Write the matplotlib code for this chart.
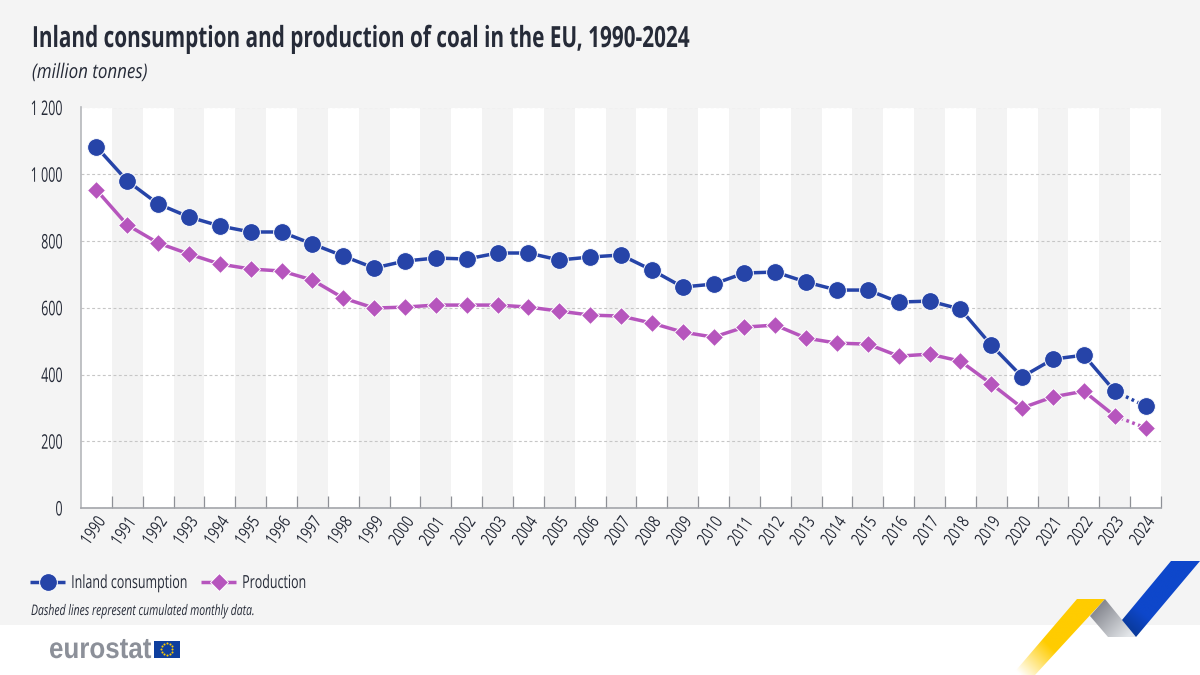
import matplotlib
matplotlib.use("Agg")
import matplotlib.pyplot as plt
import numpy as np
import matplotlib.patheffects as pe
from matplotlib.transforms import Affine2D
from matplotlib.patches import Polygon, Rectangle
from matplotlib.colors import LinearSegmentedColormap

plt.rcParams['font.family'] = ['Open Sans', 'DejaVu Sans']

years = list(range(1990, 2025))
consumption = [1082, 980, 911, 872, 845, 827, 827, 791, 755, 719, 740, 749, 746, 764, 764, 743, 752, 758,
               713, 662, 671, 704, 707, 677, 653, 653, 617, 620, 596, 488, 393, 446, 458, 350, 305]
production = [953, 848, 794, 761, 731, 716, 710, 683, 629, 599, 602, 608, 608, 608, 602, 590, 578, 575,
              554, 527, 512, 542, 548, 509, 494, 491, 455, 461, 440, 372, 300, 333, 350, 276, 240]
yticks = [0, 200, 400, 600, 800, 1000, 1200]
ylabels = ['0', '200', '400', '600', '800', '1 000', '1 200']

BG = '#f4f4f4'
TXT = '#262b38'
BLUE = '#2644a8'
PURPLE = '#b655bd'
W, H = 1200, 675


class Condense(pe.AbstractPathEffect):
    """Draws real text narrower (no condensed font is installed), keeping its anchor."""
    def __init__(self, sx, frac=0.0):
        super().__init__()
        self.sx, self.frac = sx, frac

    def draw_path(self, renderer, gc, tpath, affine, rgbFace=None):
        w = tpath.get_extents().x1
        pre = Affine2D().scale(self.sx, 1).translate((1 - self.sx) * w * self.frac, 0)
        renderer.draw_path(gc, tpath, pre + affine, rgbFace)


fig = plt.figure(figsize=(12, 6.75), dpi=100, facecolor='white')

# page-coordinate overlay (pixels, y down)
deco = fig.add_axes([0, 0, 1, 1], zorder=0)
deco.set_xlim(0, W); deco.set_ylim(H, 0); deco.axis('off')
deco.add_patch(Rectangle((0, 0), W, 625, fc=BG, ec='none'))


def grad_poly(pts, stops, p0, p1):
    """Fill a polygon with a linear gradient from p0 to p1 (page pixels)."""
    pts = np.array(pts, float)
    x0, y0 = pts.min(axis=0); x1, y1 = pts.max(axis=0)
    xs, ys = np.meshgrid(np.linspace(x0, x1, 200), np.linspace(y0, y1, 200))
    d = np.array(p1) - np.array(p0)
    t = ((xs - p0[0]) * d[0] + (ys - p0[1]) * d[1]) / (d @ d)
    cmap = LinearSegmentedColormap.from_list('g', stops)
    im = deco.imshow(np.clip(t, 0, 1), cmap=cmap, vmin=0, vmax=1, extent=(x0, x1, y1, y0),
                     aspect='auto', interpolation='bilinear', zorder=2)
    poly = Polygon(pts, closed=True, transform=deco.transData, fc='none', ec='none')
    deco.add_patch(poly)
    im.set_clip_path(poly)


grad_poly([(1077, 599), (1105, 599), (1035, 675), (1012, 675)],
          [(0, '#ffcc00'), (0.55, '#ffcc00'), (1, '#ffffff')], (1085, 610), (1020, 675))
grad_poly([(1105, 599), (1136, 637), (1108, 637), (1090, 616)],
          ['#85878f', '#e4e7ea'], (1097, 607), (1128, 637))
grad_poly([(1171, 561), (1200, 561), (1136, 637), (1122, 620)],
          [(0, '#0a3a9c'), (0.4, '#0e47cb'), (1, '#0e47cb')], (1130, 630), (1165, 590))
deco.set_xlim(0, W); deco.set_ylim(H, 0)

# logo
logo = deco.text(49, 658, 'eurostat', fontsize=21, fontweight='bold', color='#8c9099',
                 family=['Liberation Sans', 'DejaVu Sans'], va='baseline', ha='left')
logo.set_path_effects([Condense(0.89)])
deco.add_patch(Rectangle((154, 640.5), 25.5, 17, fc='#0e3f9e', ec='none', zorder=3))
ang = np.linspace(0, 2 * np.pi, 12, endpoint=False)
deco.scatter(166.8 + 5.6 * np.cos(ang), 649 + 5.6 * np.sin(ang), s=2.2, c='#ffcc00', linewidths=0, zorder=4)

# chart
ax = fig.add_axes([81 / W, 1 - 508 / H, 1080 / W, 400.5 / H], zorder=1)
ax.set_facecolor('white')
x = np.arange(len(years))
ax.set_xlim(-0.5, len(years) - 0.5)
ax.set_ylim(0, 1200)
for i in x[1::2]:
    ax.axvspan(i - 0.5, i + 0.5, fc='#f3f3f3', ec='none', zorder=0)
ax.grid(axis='y', color='#c6c6c6', ls=(0, (2.6, 2.2)), lw=0.8, zorder=1)
ax.set_axisbelow(True)


def series(vals, color, marker, ms, label):
    v = np.array(vals)
    line, = ax.plot(x[:-1], v[:-1], color=color, lw=2.5, marker=marker, ms=ms, mec='white', mew=0.7,
                    label=label, zorder=4, solid_capstyle='butt')
    ax.plot(x[-2:], v[-2:], color=color, lw=2.5, ls=(0, (0.8, 1.0)), zorder=3)
    ax.plot(x[-1:], v[-1:], color=color, marker=marker, ms=ms, mec='white', mew=0.7, ls='none', zorder=4)
    return line


h1 = series(consumption, BLUE, 'o', 12.8, 'Inland consumption')
h2 = series(production, PURPLE, 'D', 9.6, 'Production')

ax.set_yticks(yticks, ylabels, fontsize=14.5, color=TXT)
ax.set_xticks(x, [str(y) for y in years], fontsize=12.5, color=TXT)
ax.set_xticks(list(x[:-1] + 0.5) + [x[-1] + 0.5], minor=True)
ax.tick_params(axis='x', which='major', length=0, pad=4.5)
ax.tick_params(axis='x', which='minor', direction='in', length=9, width=0.9, color='#8e9096')
ax.tick_params(axis='y', length=0, pad=13)
for t in ax.get_xticklabels():
    t.set(rotation=55, rotation_mode='anchor', ha='right', va='top')
    t.set_path_effects([Condense(0.76, 1.0)])
for t in ax.get_yticklabels():
    t.set_path_effects([Condense(0.62, 1.0)])
for s in ('top', 'right'):
    ax.spines[s].set_visible(False)
ax.spines['left'].set_color('#b5b7bb'); ax.spines['left'].set_linewidth(1.2)
ax.spines['bottom'].set_color('#a3a5aa'); ax.spines['bottom'].set_linewidth(1.2)

for handle, left in ((h1, 30), (h2, 201)):
    leg = fig.legend(handles=[handle], loc='center left', bbox_to_anchor=(left / W, 1 - 583 / H),
                     frameon=False, fontsize=13, handlelength=1.95, handletextpad=0.33,
                     borderpad=0, borderaxespad=0, labelcolor=TXT, numpoints=1)
    for t in leg.get_texts():
        t.set_path_effects([Condense(0.69)])

for px, py, s, fs, kw, sx in (
        (32, 47, 'Inland consumption and production of coal in the EU, 1990-2024', 21, dict(fontweight='bold'), 0.712),
        (32, 78, '(million tonnes)', 14.5, dict(style='italic'), 0.84),
        (31, 615, 'Dashed lines represent cumulated monthly data.', 10.5, dict(style='italic'), 0.715)):
    t = fig.text(px / W, 1 - py / H, s, fontsize=fs, color=TXT, va='baseline', ha='left', **kw)
    t.set_path_effects([Condense(sx)])

fig.savefig('out.png', dpi=100)
